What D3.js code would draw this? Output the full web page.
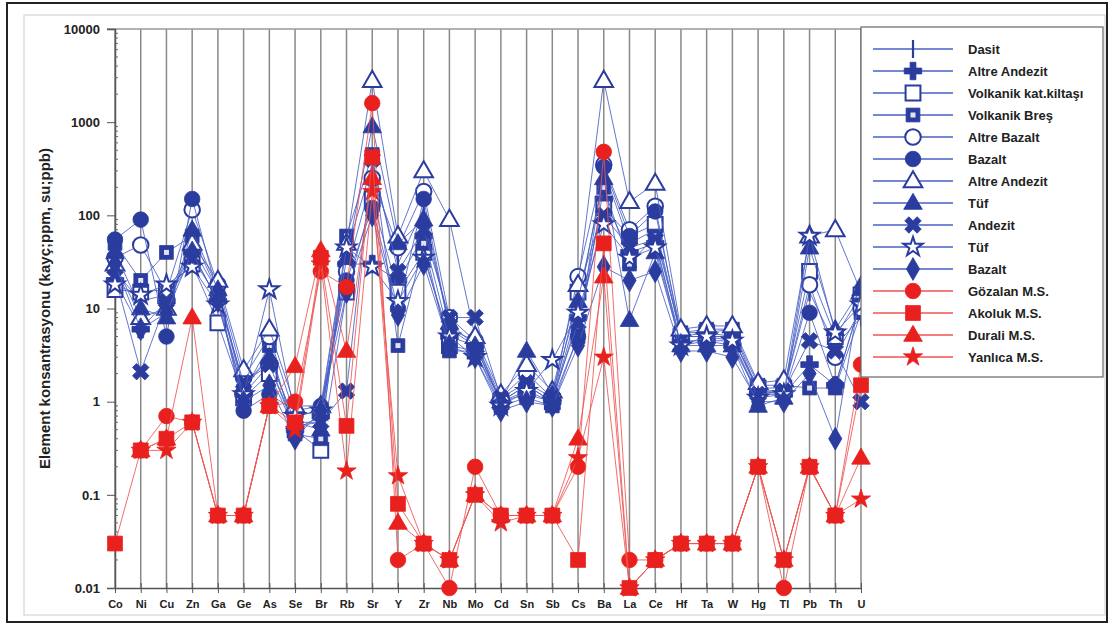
<!DOCTYPE html>
<html>
<head>
<meta charset="utf-8">
<script src="https://cdn.jsdelivr.net/npm/d3@7"></script>
<style>
  body { margin: 0; background: #fff; }
  svg text { font-family: "Liberation Sans", Arial, sans-serif; font-weight: bold; fill: #222; }
</style>
</head>
<body>
<script>
const WIDTH = 1109;
const HEIGHT = 626;
const LEFT = 115, RIGHT = 861, TOP = 29, BOTTOM = 588;

var elements = ['Co','Ni','Cu','Zn','Ga','Ge','As','Se','Br','Rb','Sr','Y','Zr','Nb','Mo','Cd','Sn','Sb','Cs','Ba','La','Ce','Hf','Ta','W','Hg','Tl','Pb','Th','U'];
var yTicks = [0.01, 0.1, 1, 10, 100, 1000, 10000];
var yTickLabels = ['0.01','0.1','1','10','100','1000','10000'];

// blue samples
var dasit          = [25,12,14,45,15,1.5,3,0.6,0.6,40,350,30,120,6,4,1.0,1.5,1.0,10,300,50,70,5,5,5,1.3,1.3,15,4,8];
var altreAndezit1  = [20,6,12,40,12,1.2,2.5,0.5,0.7,30,30,20,60,5,4,1.0,1.2,1.0,8,150,40,50,4.5,4.5,4,1.2,1.2,2.5,1.5,12];
var volkanikKat    = [16,15,16,30,7,1.1,2,0.5,0.3,15,150,15,40,4,3.5,1.0,1.3,1.0,15,120,60,80,5,5.5,5,1.4,1.4,25,5,14];
var volkanikBres   = [50,20,40,60,15,1.3,4,0.45,0.4,60,450,4,50,3.5,3.5,0.9,1.1,0.9,5,200,30,60,5.5,6,6,1.5,1.5,1.4,1.4,9];
var altreBazalt    = [35,48,15,115,18,1.8,5,0.7,0.8,25,250,45,180,8,4.5,1.1,2,1.1,22,350,70,125,5,5,5,1.3,1.3,18,3,10];
var bazalt1        = [55,90,5,150,14,0.8,1.2,0.8,0.9,20,120,10,150,6,4.5,1.0,1.5,1.0,5,330,60,110,5.5,5.5,6,1.3,1.2,9,1.5,12];
var altreAndezit2  = [30,8,10,50,20,2.2,6,0.9,0.9,50,2800,60,300,90,5,1.2,2.5,1.3,18,2800,140,220,6,6.5,6.5,1.6,1.7,60,70,15];
var tuf1           = [40,10,8,70,16,1.4,3,0.6,0.5,35,900,50,90,7,4,1.0,3.5,1.2,12,250,7.5,40,4,4,4,0.9,1.1,45,6,16];
var andezit        = [22,2.1,12,35,13,1.6,2.5,0.55,0.6,1.3,400,25,70,8,8,1.1,1.6,1.1,7,100,45,55,4,4.5,4.5,1.2,1.3,4.5,3.5,1.0];
var tuf2           = [18,14,18,28,11,1.2,16,0.7,0.8,45,28,12,35,5,3,0.9,1.3,2.8,9,80,35,45,4,5,4.5,1.1,1.2,60,5.5,11];
var bazalt2        = [30,6,9,40,12,1.0,1.5,0.4,0.8,15,100,8.5,30,4,3,0.8,1.0,0.9,4,28,20,25,3.5,3.5,3,1.0,1.0,2,0.4,17];
// red samples (null = not measured)
var gozalan = [null,0.3,0.7,0.6,0.06,0.06,0.9,1.0,25,17,1600,0.02,0.03,0.01,0.2,0.06,0.06,0.06,0.2,480,0.02,0.02,0.03,0.03,0.03,0.2,0.01,0.2,0.06,2.5];
var akoluk  = [0.03,0.3,0.4,0.6,0.06,0.06,0.9,0.6,35,0.55,420,0.08,0.03,0.02,0.1,0.06,0.06,0.06,0.02,50,0.01,0.02,0.03,0.03,0.03,0.2,0.02,0.2,0.06,1.5];
var durali  = [null,0.3,0.4,8,0.06,0.06,0.9,2.4,42,3.5,250,0.05,0.03,0.02,0.1,0.06,0.06,0.06,0.4,22,0.01,0.02,0.03,0.03,0.03,0.2,0.02,0.2,0.06,0.25];
var yanlica = [null,0.3,0.3,0.6,0.06,0.06,0.9,0.5,30,0.18,180,0.16,0.03,0.02,0.1,0.05,0.06,0.06,0.25,3,0.01,0.02,0.03,0.03,0.03,0.2,0.02,0.2,0.06,0.09];

var BLUE = '#2a3c9e', BLUE_LINE = '#4a5fc4', RED = '#e8211f', RED_LINE = '#ef5552';

var series = [
  {name:'Dasit', values:dasit, marker:'vline', fill:false, color:BLUE, line:BLUE_LINE},
  {name:'Altre Andezit', values:altreAndezit1, marker:'plus', fill:true, color:BLUE, line:BLUE_LINE},
  {name:'Volkanik kat.kiltaşı', values:volkanikKat, marker:'square', fill:false, color:BLUE, line:BLUE_LINE},
  {name:'Volkanik Breş', values:volkanikBres, marker:'dotsquare', fill:true, color:BLUE, line:BLUE_LINE},
  {name:'Altre Bazalt', values:altreBazalt, marker:'circle', fill:false, color:BLUE, line:BLUE_LINE},
  {name:'Bazalt', values:bazalt1, marker:'circle', fill:true, color:BLUE, line:BLUE_LINE},
  {name:'Altre Andezit', values:altreAndezit2, marker:'triangle', fill:false, color:BLUE, line:BLUE_LINE},
  {name:'Tüf', values:tuf1, marker:'triangle', fill:true, color:BLUE, line:BLUE_LINE},
  {name:'Andezit', values:andezit, marker:'x', fill:true, color:BLUE, line:BLUE_LINE},
  {name:'Tüf', values:tuf2, marker:'star', fill:false, color:BLUE, line:BLUE_LINE},
  {name:'Bazalt', values:bazalt2, marker:'diamond', fill:true, color:BLUE, line:BLUE_LINE},
  {name:'Gözalan M.S.', values:gozalan, marker:'circle', fill:true, color:RED, line:RED_LINE},
  {name:'Akoluk M.S.', values:akoluk, marker:'square', fill:true, color:RED, line:RED_LINE},
  {name:'Durali M.S.', values:durali, marker:'triangle', fill:true, color:RED, line:RED_LINE},
  {name:'Yanlıca M.S.', values:yanlica, marker:'star', fill:true, color:RED, line:RED_LINE}
];
// Akoluk squares sit on top of the other red markers
var drawOrder = [0,1,2,3,4,5,6,7,8,9,10,11,13,14,12];

var svg = d3.select('body').append('svg').attr('width', WIDTH).attr('height', HEIGHT);

// frames
svg.append('rect').attr('x',7).attr('y',3).attr('width',1100).attr('height',619)
  .attr('fill','none').attr('stroke','#222').attr('stroke-width',2);
svg.append('rect').attr('x',24).attr('y',15).attr('width',1081).attr('height',600)
  .attr('fill','none').attr('stroke','#ccc').attr('stroke-width',1);

var x = d3.scalePoint().domain(elements).range([LEFT, RIGHT]);
var y = d3.scaleLog().domain([0.01, 10000]).range([BOTTOM, TOP]);

// vertical grid
svg.append('g').selectAll('line').data(elements).enter().append('line')
  .attr('x1', d => x(d)).attr('x2', d => x(d))
  .attr('y1', TOP).attr('y2', BOTTOM)
  .attr('stroke', '#8a8a8a').attr('stroke-width', 1.5);
svg.append('line').attr('x1', LEFT - 8).attr('x2', RIGHT).attr('y1', TOP).attr('y2', TOP)
  .attr('stroke', '#999').attr('stroke-width', 1.5);

// y axis
var yAxis = d3.axisLeft(y).tickValues(yTicks).tickSize(8)
  .tickFormat((d, i) => yTickLabels[i]);
var gy = svg.append('g').attr('transform', 'translate(' + LEFT + ',0)').call(yAxis);
gy.select('.domain').attr('stroke', '#555').attr('stroke-width', 1.5);
gy.selectAll('.tick line').attr('stroke', '#555');
gy.selectAll('.tick text').attr('x', -15).style('font-size', '13px');
var minor = [];
for (var p = -2; p < 4; p++) for (var m = 2; m < 10; m++) minor.push(m * Math.pow(10, p));
svg.append('g').selectAll('line').data(minor).enter().append('line')
  .attr('x1', LEFT).attr('x2', LEFT + 3)
  .attr('y1', d => y(d)).attr('y2', d => y(d))
  .attr('stroke', '#666');

// x axis
var xAxis = d3.axisBottom(x).tickSizeInner(5).tickSizeOuter(0);
var gx = svg.append('g').attr('transform', 'translate(0,' + BOTTOM + ')').call(xAxis);
gx.select('.domain').attr('stroke', '#555').attr('stroke-width', 1.5);
gx.selectAll('.tick line').attr('stroke', '#555').attr('y1', -5);
gx.selectAll('.tick text').attr('y', 12).style('font-size', '11px');

// y title
svg.append('text').attr('transform', 'translate(50,' + ((TOP + BOTTOM) / 2) + ') rotate(-90)')
  .attr('text-anchor', 'middle').style('font-size', '15px')
  .text('Element konsantrasyonu (kayç;ppm, su;ppb)');

function drawMarker(g, s, cx, cy) {
  var fill = s.fill ? s.color : '#fff';
  var t = 'translate(' + cx + ',' + cy + ')';
  if (s.marker === 'vline') {
    g.append('line').attr('x1', cx).attr('x2', cx).attr('y1', cy - 9).attr('y2', cy + 9)
      .attr('stroke', s.color).attr('stroke-width', 2.2);
    return;
  }
  var shapes = {circle: [d3.symbolCircle, 190], square: [d3.symbolSquare, 220], dotsquare: [d3.symbolSquare, 190],
    triangle: [d3.symbolTriangle, 150], star: [d3.symbolStar, 115], diamond: [d3.symbolDiamond, 150],
    plus: [d3.symbolCross, 170], x: [d3.symbolCross, 170]};
  var sh = shapes[s.marker];
  var path = g.append('path').attr('d', d3.symbol().type(sh[0]).size(sh[1])())
    .attr('transform', t + (s.marker === 'x' ? ' rotate(45)' : ''))
    .attr('fill', fill).attr('stroke', s.color).attr('stroke-width', s.fill ? 0.8 : 2);
  if (s.marker === 'triangle') path.attr('transform', t + ' translate(0,1)');
  if (s.marker === 'dotsquare') {
    g.append('rect').attr('x', cx - 2.5).attr('y', cy - 2.5).attr('width', 5).attr('height', 5).attr('fill', '#dfe3f5');
  }
}

var line = d3.line().x(d => x(d.el)).y(d => y(d.v));
var plot = svg.append('g');
drawOrder.forEach(function(k) {
  var s = series[k];
  var pts = elements.map((el, i) => ({el: el, v: s.values[i]})).filter(d => d.v != null);
  plot.append('path').attr('d', line(pts)).attr('fill', 'none')
    .attr('stroke', s.line).attr('stroke-width', 1).attr('stroke-opacity', 0.85);
  var mg = plot.append('g');
  pts.forEach(d => drawMarker(mg, s, x(d.el), y(d.v)));
});

// legend
var lg = svg.append('g');
lg.append('rect').attr('x', 861).attr('y', 27).attr('width', 242).attr('height', 350)
  .attr('fill', '#fff').attr('stroke', '#666').attr('stroke-width', 1.2);
series.forEach(function(s, i) {
  var ly = 49 + i * 22;
  lg.append('line').attr('x1', 873).attr('x2', 953).attr('y1', ly).attr('y2', ly)
    .attr('stroke', s.line).attr('stroke-width', 1.5);
  drawMarker(lg, s, 913, ly);
  lg.append('text').attr('x', 968).attr('y', ly + 5).style('font-size', '13px').text(s.name);
});
</script>
</body>
</html>
